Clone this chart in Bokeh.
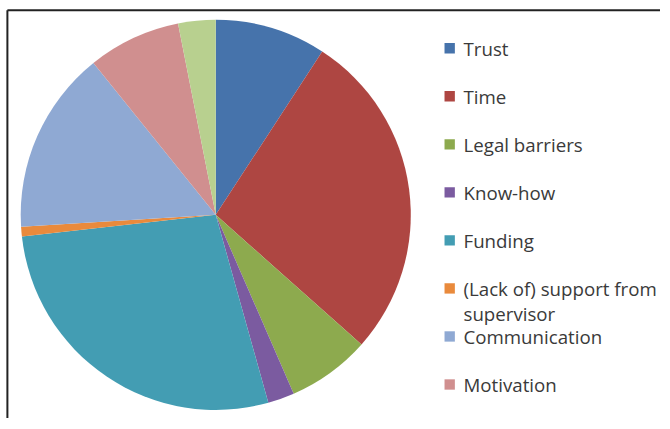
import numpy as np
from bokeh.plotting import figure
from bokeh.models import Range1d
from bokeh.core.properties import value
from bokeh.embed import file_html
from bokeh.resources import INLINE

# ---- data (percent of the pie) ----
categories = ["Trust", "Time", "Legal barriers", "Know-how", "Funding",
              "(Lack of) support from\nsupervisor", "Communication", "Motivation", "Other"]
shares = [9.2, 27.4, 6.9, 2.2, 27.6, 0.8, 15.2, 7.7, 3.1]
colors = ["#4673AB", "#AE4642", "#8DAA4E", "#7B5BA0", "#439DB3",
          "#E98A3C", "#8FA9D3", "#D08F8F", "#B8D08F"]
legend_count = 8  # the last legend entry is cut off in the original

W, H = 660, 418
RW, RH = 670, 429   # reference canvas, used as data coordinates (y measured upward)
s = W / RW
p = figure(width=W, height=H, output_backend="svg", toolbar_location=None,
           x_range=Range1d(0, RW), y_range=Range1d(0, RH), min_border=0)
p.axis.visible = False
p.grid.visible = False
p.outline_line_color = None
p.background_fill_color = "white"
p.border_fill_color = "white"

# frame (left and top edges visible)
fx, fy = 7, RH - 10
p.segment(x0=[fx, fx], y0=[fy, fy], x1=[fx, RW + 5], y1=[-5, fy],
          line_color="#222222", line_width=2)

# pie
vals = np.array(shares, dtype=float)
frac = vals / vals.sum()
cum = np.concatenate([[0.0], np.cumsum(frac)])
start = np.pi / 2 - cum[1:] * 2 * np.pi
end = np.pi / 2 - cum[:-1] * 2 * np.pi
cx, cy, r = 218.5, RH - 220, 198
p.wedge(x=[cx] * len(vals), y=[cy] * len(vals), radius=r * s, radius_units="screen",
        start_angle=list(start), end_angle=list(end),
        fill_color=colors, line_color=None)

# legend
lx_sq, lx_txt = 456, 470
y0, dy, line_gap = 49, 49.3, 26
ys = [RH - (y0 + i * dy) for i in range(legend_count)]
p.rect(x=[lx_sq] * legend_count, y=ys, width=10.5 * s, height=10.5 * s,
       width_units="screen", height_units="screen",
       fill_color=colors[:legend_count], line_color=None)
tx, ty, tt = [], [], []
for y, lab in zip(ys, categories[:legend_count]):
    for k, line in enumerate(lab.split("\n")):
        tx.append(lx_txt)
        ty.append(y - k * line_gap)
        tt.append(line)
p.text(x=tx, y=ty, text=tt,
       text_font=value("Open Sans"), text_font_size="18.7px", text_color="#3a3a3a",
       text_baseline="middle", text_align="left")

open("out.html", "w").write(file_html(p, INLINE))
